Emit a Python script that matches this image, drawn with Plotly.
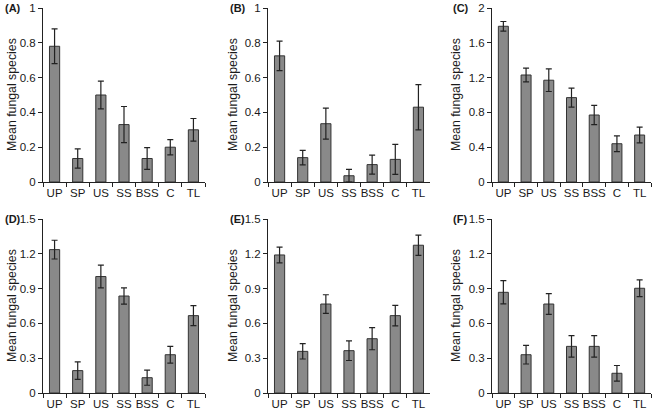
import plotly.graph_objects as go

categories = ["UP", "SP", "US", "SS", "BSS", "C", "TL"]

vals_A = [0.78, 0.135, 0.50, 0.33, 0.135, 0.20, 0.30]
err_A = [0.10, 0.055, 0.08, 0.104, 0.063, 0.044, 0.065]
vals_B = [0.725, 0.14, 0.335, 0.036, 0.10, 0.13, 0.43]
err_B = [0.085, 0.042, 0.089, 0.036, 0.055, 0.086, 0.13]
vals_C = [1.79, 1.23, 1.17, 0.97, 0.77, 0.44, 0.54]
err_C = [0.055, 0.08, 0.13, 0.11, 0.11, 0.09, 0.09]
vals_D = [1.236, 0.193, 1.004, 0.836, 0.132, 0.33, 0.667]
err_D = [0.081, 0.075, 0.098, 0.07, 0.065, 0.072, 0.086]
vals_E = [1.19, 0.359, 0.767, 0.365, 0.468, 0.667, 1.274]
err_E = [0.068, 0.066, 0.08, 0.085, 0.095, 0.088, 0.087]
vals_F = [0.868, 0.33, 0.767, 0.402, 0.402, 0.17, 0.903]
err_F = [0.10, 0.08, 0.09, 0.093, 0.093, 0.067, 0.073]

panel_labels = ["(A)", "(B)", "(C)", "(D)", "(E)", "(F)"]
y_ranges = [(1, 0.2), (1, 0.2), (2, 0.4), (1.5, 0.3), (1.5, 0.3), (1.5, 0.3)]
y_title = "Mean fungal species"

W, H = 652, 412
# pixel layout: (x0, x1) of plot, (ytop, ybottom)
cols = [(43, 205), (268, 430), (492, 651)]
rows = [(8, 182), (219, 393)]
label_x = [3, 228, 451]
title_x = [12, 233, 456]

series = [(vals_A, err_A), (vals_B, err_B), (vals_C, err_C),
          (vals_D, err_D), (vals_E, err_E), (vals_F, err_F)]

fig = go.Figure()
font_family = "Liberation Sans, Arial, sans-serif"
text_col = "#1a1a1a"
annotations = []
for i, (vals, errs) in enumerate(series):
    r, c = divmod(i, 3)
    n = "" if i == 0 else str(i + 1)
    fig.add_trace(go.Bar(
        x=categories, y=vals,
        error_y=dict(type="data", array=errs, visible=True, color="#222222",
                     thickness=1.2, width=3),
        marker=dict(color="#898989", line=dict(color="#333333", width=1)),
        width=0.44,
        xaxis="x" + n, yaxis="y" + n, showlegend=False,
    ))
    x0, x1 = cols[c]
    yt, yb = rows[r]
    ymax, dt = y_ranges[i]
    fig.layout["xaxis" + n] = dict(
        domain=[x0 / W, min(x1 / W, 1)], anchor="y" + n,
        type="category", range=[-0.5, 6.5], tickson="boundaries",
        ticks="outside", ticklen=4, tickcolor="#222222", tickangle=0,
        showline=True, linecolor="#222222", linewidth=1,
        showgrid=False, zeroline=False, fixedrange=True, automargin=False,
        tickfont=dict(size=11.5, color=text_col, family=font_family),
    )
    fig.layout["yaxis" + n] = dict(
        domain=[1 - yb / H, 1 - yt / H], anchor="x" + n,
        range=[0, ymax], dtick=dt, tick0=0,
        ticks="outside", ticklen=4, tickcolor="#222222",
        showline=True, linecolor="#222222", linewidth=1,
        showgrid=False, zeroline=False, fixedrange=True, automargin=False,
        tickfont=dict(size=11.5, color=text_col, family=font_family),
    )
    annotations.append(dict(
        text="<b>" + panel_labels[i] + "</b>", xref="paper", yref="paper",
        x=label_x[c] / W, y=1 - yt / H, xanchor="left", yanchor="middle",
        showarrow=False, font=dict(size=11, color=text_col, family=font_family),
    ))
    annotations.append(dict(
        text=y_title, xref="paper", yref="paper",
        x=title_x[c] / W, y=1 - (yt + yb) / 2 / H, xanchor="center", yanchor="middle",
        textangle=-90, showarrow=False,
        font=dict(size=12.3, color=text_col, family=font_family),
    ))

fig.update_layout(
    width=W, height=H, margin=dict(l=0, r=0, t=0, b=0),
    paper_bgcolor="white", plot_bgcolor="white",
    annotations=annotations, bargap=0.56,
)
fig.write_html(
    "out.html",
    config={"displayModeBar": False},
    post_script="document.body.style.margin='0';document.body.style.overflow='hidden';",
)
